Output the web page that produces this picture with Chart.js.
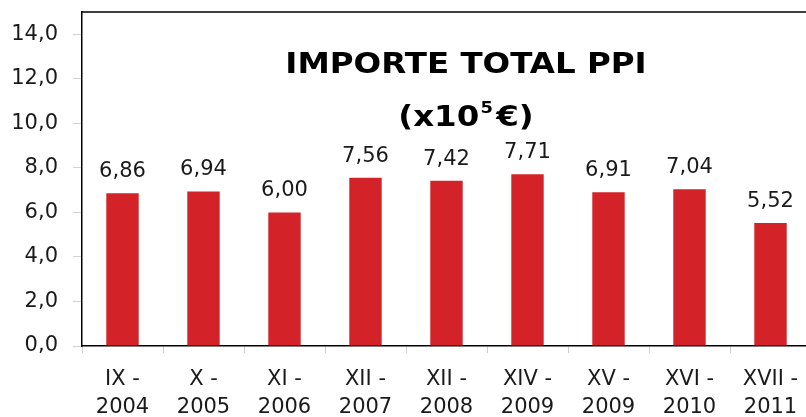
<!DOCTYPE html>
<html>
<head>
<meta charset="utf-8">
<script src="https://cdn.jsdelivr.net/npm/chart.js@4/dist/chart.umd.min.js"></script>
<style>
  html, body { margin: 0; padding: 0; background: #fff; overflow: hidden; }
  #wrap { width: 806px; height: 417px; overflow: hidden; position: relative; }
  #box { width: 812px; height: 417px; position: absolute; left: 0; top: 0; }
</style>
</head>
<body>
<div id="wrap"><div id="box"><canvas id="c"></canvas></div></div>
<script>
const categories = [
  ['IX -', '2004'], ['X -', '2005'], ['XI -', '2006'], ['XII -', '2007'], ['XII -', '2008'],
  ['XIV -', '2009'], ['XV -', '2009'], ['XVI -', '2010'], ['XVII -', '2011']
];
const values = [6.86, 6.94, 6.00, 7.56, 7.42, 7.71, 6.91, 7.04, 5.52];
const yTickValues = [0, 2, 4, 6, 8, 10, 12, 14];
const titleLine1 = 'IMPORTE TOTAL PPI';
const titleLine2 = ['(x10', '5', '€)'];

const FONT = '"DejaVu Sans", Verdana, sans-serif';
const fmt = v => Number(v).toFixed(1).replace('.', ',');
const fmt2 = v => Number(v).toFixed(2).replace('.', ',');

const overlay = {
  id: 'overlay',
  afterDraw(chart) {
    const ctx = chart.ctx, a = chart.chartArea;
    ctx.save();
    // plot area border (top & right)
    ctx.strokeStyle = '#000';
    ctx.lineWidth = 1.5;
    ctx.beginPath();
    ctx.moveTo(a.left, a.top);
    ctx.lineTo(a.right, a.top);
    ctx.lineTo(a.right, a.bottom);
    ctx.stroke();
    // data labels
    const meta = chart.getDatasetMeta(0);
    ctx.fillStyle = '#1a1a1a';
    ctx.font = '21px ' + FONT;
    ctx.textAlign = 'center';
    ctx.textBaseline = 'alphabetic';
    meta.data.forEach((bar, i) => {
      ctx.fillText(fmt2(values[i]), bar.x, bar.y - 16);
    });
    // title (slightly widened like the original)
    const cx = 466, sx = 1.12;
    const big = 'bold 29px ' + FONT, small = 'bold 16px ' + FONT;
    ctx.fillStyle = '#000';
    ctx.textAlign = 'left';
    ctx.font = big;
    const t1w = ctx.measureText(titleLine1).width;
    ctx.save();
    ctx.translate(cx - t1w * sx / 2, 73);
    ctx.scale(sx, 1);
    ctx.fillText(titleLine1, 0, 0);
    ctx.restore();

    ctx.font = big;
    const w1 = ctx.measureText(titleLine2[0]).width;
    const w3 = ctx.measureText(titleLine2[2]).width;
    ctx.font = small;
    const w2 = ctx.measureText(titleLine2[1]).width + 4;
    const total = w1 + w2 + w3;
    ctx.save();
    ctx.translate(cx - total * sx / 2, 126);
    ctx.scale(sx, 1);
    ctx.font = big;
    ctx.fillText(titleLine2[0], 0, 0);
    ctx.font = small;
    ctx.fillText(titleLine2[1], w1 + 1, -13);
    ctx.font = big;
    ctx.fillText(titleLine2[2], w1 + w2, 0);
    ctx.restore();
    ctx.restore();
  }
};

new Chart(document.getElementById('c'), {
  type: 'bar',
  data: {
    labels: categories,
    datasets: [{
      data: values,
      backgroundColor: '#d42229',
      borderWidth: 0,
      barPercentage: 0.4,
      categoryPercentage: 1.0
    }]
  },
  options: {
    responsive: true,
    maintainAspectRatio: false,
    animation: false,
    layout: { padding: { top: 12, right: 1, left: 0, bottom: 0 } },
    plugins: { legend: { display: false }, tooltip: { enabled: false }, title: { display: false } },
    scales: {
      x: {
        grid: { drawOnChartArea: false, tickLength: 7, color: '#d0d0d0', offset: true },
        border: { color: '#000', width: 1.5 },
        ticks: {
          color: '#1a1a1a', font: { family: FONT, size: 21, lineHeight: 1.33 },
          padding: 13, maxRotation: 0, autoSkip: false
        },
        afterFit(s) { s.height = 71; s.paddingLeft = 0; s.paddingRight = 0; }
      },
      y: {
        min: 0, max: 15,
        afterBuildTicks(axis) { axis.ticks = yTickValues.map(v => ({ value: v })); },
        grid: { drawOnChartArea: false, tickLength: 9, color: '#d0d0d0' },
        border: { color: '#000', width: 1.5 },
        ticks: {
          color: '#1a1a1a', font: { family: FONT, size: 21 }, padding: 15,
          callback: v => fmt(v)
        },
        afterFit(s) { s.width = 82; s.paddingTop = 0; s.paddingBottom = 0; }
      }
    }
  },
  plugins: [overlay]
});
</script>
</body>
</html>
